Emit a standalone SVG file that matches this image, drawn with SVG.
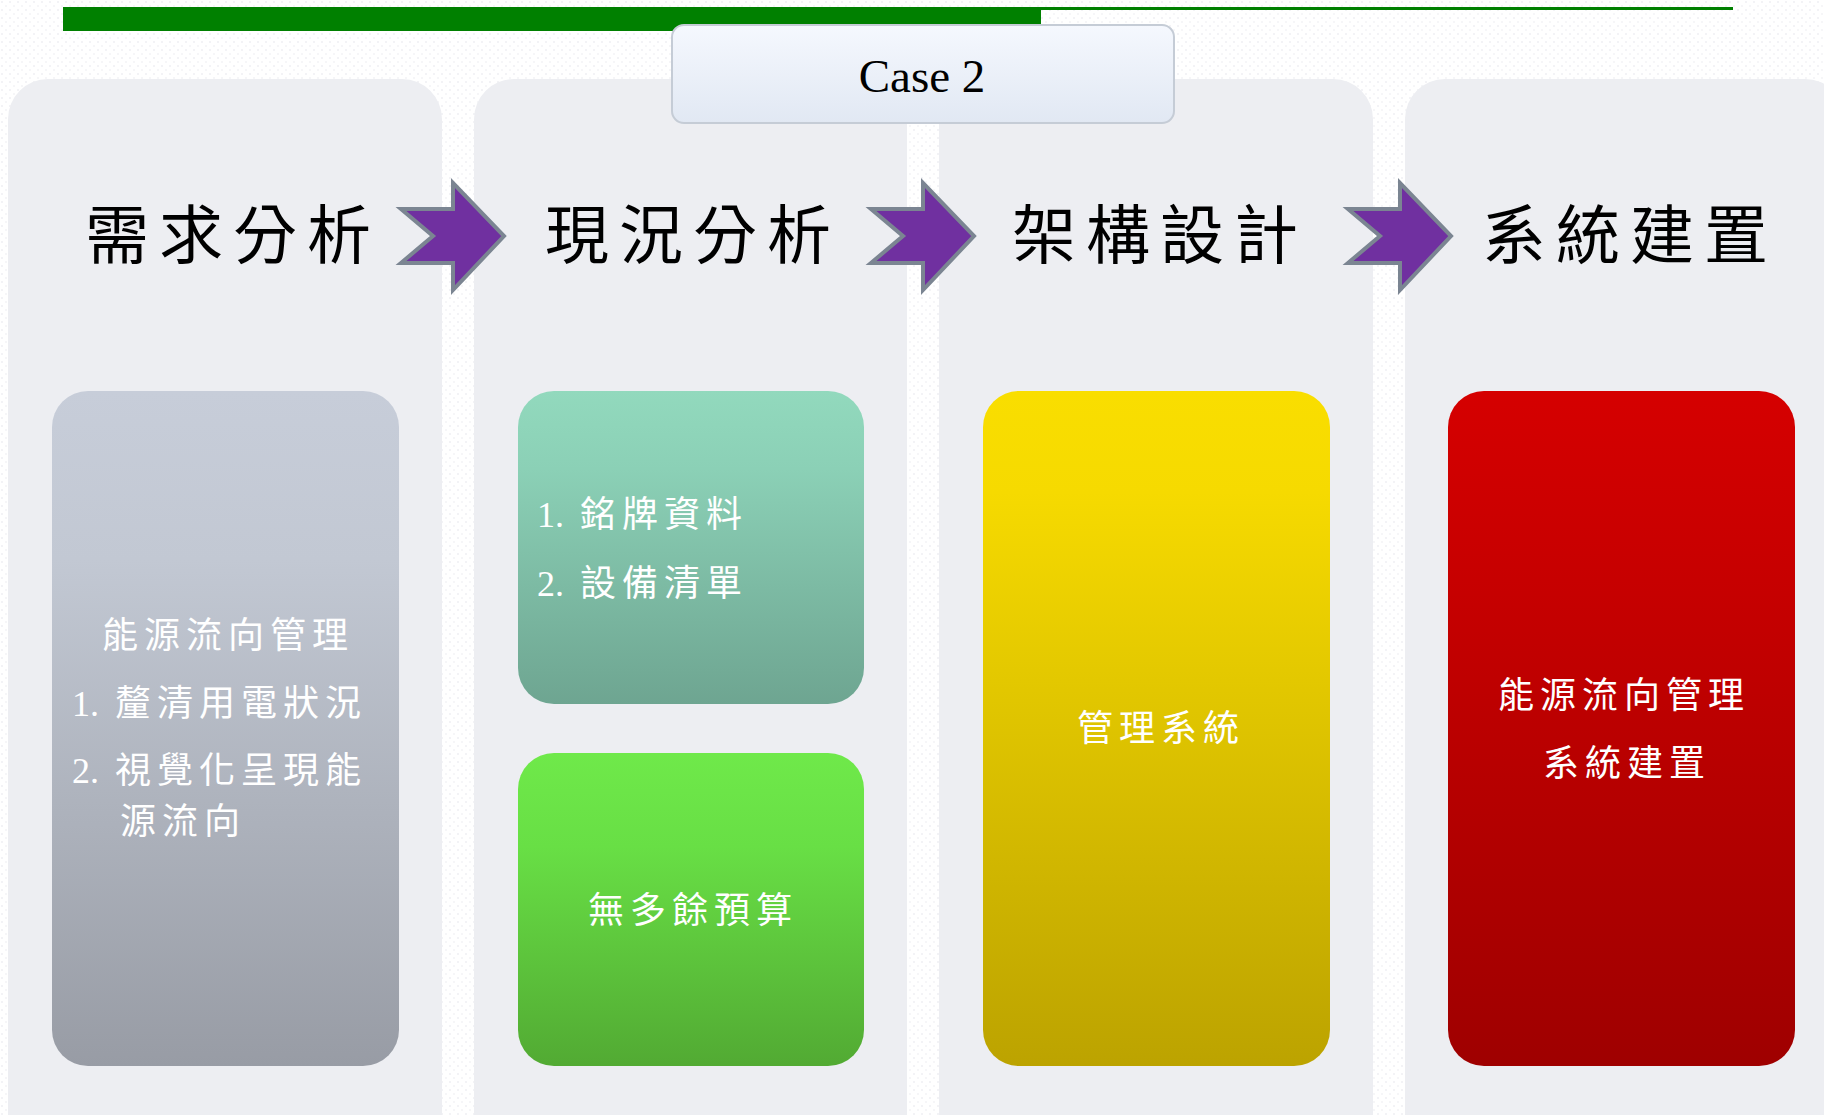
<svg xmlns="http://www.w3.org/2000/svg" width="1824" height="1115" viewBox="0 0 1824 1115">
  <defs>
    <pattern id="dots" width="8" height="8" patternUnits="userSpaceOnUse">
      <rect width="8" height="8" fill="#ffffff"/>
      <circle cx="2" cy="2" r="1" fill="#f0f0f3"/>
      <circle cx="6" cy="6" r="1" fill="#f3f3f6"/>
    </pattern>
    <linearGradient id="gCase" x1="0" y1="0" x2="0" y2="1">
      <stop offset="0" stop-color="#f5f8fe"/>
      <stop offset="1" stop-color="#e1e8f3"/>
    </linearGradient>
    <linearGradient id="gGrey" x1="0" y1="0" x2="0" y2="1">
      <stop offset="0" stop-color="#c7cdd9"/>
      <stop offset="0.25" stop-color="#c2c8d3"/>
      <stop offset="1" stop-color="#989ca5"/>
    </linearGradient>
    <linearGradient id="gTeal" x1="0" y1="0" x2="0" y2="1">
      <stop offset="0" stop-color="#92d9bd"/>
      <stop offset="0.25" stop-color="#8bd0b6"/>
      <stop offset="1" stop-color="#6ea591"/>
    </linearGradient>
    <linearGradient id="gGreen" x1="0" y1="0" x2="0" y2="1">
      <stop offset="0" stop-color="#6fe94a"/>
      <stop offset="0.3" stop-color="#68df45"/>
      <stop offset="1" stop-color="#52aa33"/>
    </linearGradient>
    <linearGradient id="gYellow" x1="0" y1="0" x2="0" y2="1">
      <stop offset="0" stop-color="#f9de00"/>
      <stop offset="0.15" stop-color="#f6da00"/>
      <stop offset="1" stop-color="#bca300"/>
    </linearGradient>
    <linearGradient id="gRed" x1="0" y1="0" x2="0" y2="1">
      <stop offset="0" stop-color="#d50000"/>
      <stop offset="0.3" stop-color="#c60000"/>
      <stop offset="1" stop-color="#9f0000"/>
    </linearGradient>
    <style>
      .col { fill: #edeef2; }
      .hdr { font-family: "Liberation Serif", "Noto Sans CJK TC", serif; font-size: 64px; letter-spacing: 10px; fill: #000000; text-anchor: middle; }
      .body { font-family: "Liberation Serif", "Noto Sans CJK TC", serif; font-size: 36px; letter-spacing: 6px; fill: #ffffff; }
      .mid { text-anchor: middle; }
      .num { letter-spacing: 0px; }
      .sp { letter-spacing: 7px; }
      .arrow { fill: #7030a0; stroke: #7b8592; stroke-width: 4; stroke-linejoin: miter; }
    </style>
  </defs>

  <rect x="0" y="0" width="1824" height="1115" fill="url(#dots)"/>

  <g id="topbar">
    <rect x="63" y="7" width="978" height="24" fill="#008000"/>
    <rect x="1041" y="7" width="692" height="3" fill="#008000"/>
  </g>

  <g id="col1">
    <rect class="col" x="8" y="79" width="434" height="1100" rx="40" ry="40"/>
    <text class="hdr" x="233" y="258">需求分析</text>
    <rect x="52" y="391" width="347" height="675" rx="36" ry="36" fill="url(#gGrey)"/>
    <text class="body mid" x="228" y="648">能源流向管理</text>
    <text class="body" x="72" y="716"><tspan class="num">1.</tspan><tspan class="sp"> </tspan>釐清用電狀況</text>
    <text class="body" x="72" y="783"><tspan class="num">2.</tspan><tspan class="sp"> </tspan>視覺化呈現能</text>
    <text class="body" x="120" y="834">源流向</text>
  </g>

  <g id="col2">
    <rect class="col" x="474" y="79" width="433" height="1100" rx="40" ry="40"/>
    <text class="hdr" x="693" y="258">現況分析</text>
    <rect x="518" y="391" width="346" height="313" rx="36" ry="36" fill="url(#gTeal)"/>
    <text class="body" x="537" y="527"><tspan class="num">1.</tspan><tspan class="sp"> </tspan>銘牌資料</text>
    <text class="body" x="537" y="596"><tspan class="num">2.</tspan><tspan class="sp"> </tspan>設備清單</text>
    <rect x="518" y="753" width="346" height="313" rx="36" ry="36" fill="url(#gGreen)"/>
    <text class="body mid" x="693" y="923">無多餘預算</text>
  </g>

  <g id="col3">
    <rect class="col" x="939" y="79" width="434" height="1100" rx="40" ry="40"/>
    <text class="hdr" x="1160" y="258">架構設計</text>
    <rect x="983" y="391" width="347" height="675" rx="36" ry="36" fill="url(#gYellow)"/>
    <text class="body mid" x="1161" y="741">管理系統</text>
  </g>

  <g id="col4">
    <rect class="col" x="1405" y="79" width="440" height="1100" rx="40" ry="40"/>
    <text class="hdr" x="1630" y="258">系統建置</text>
    <rect x="1448" y="391" width="347" height="675" rx="36" ry="36" fill="url(#gRed)"/>
    <text class="body mid" x="1624" y="708">能源流向管理</text>
    <text class="body mid" x="1627" y="776">系統建置</text>
  </g>

  <g id="case">
    <rect x="672" y="25" width="502" height="98" rx="12" ry="12" fill="url(#gCase)" stroke="#c5ccd6" stroke-width="2"/>
    <text x="922" y="92" font-family="Liberation Serif, serif" font-size="47" fill="#000000" text-anchor="middle">Case 2</text>
  </g>

  <g id="connectors">
    <path class="arrow" d="M401,209 L453,209 L453,183 L504,236 L453,290 L453,263 L401,263 L433,236 Z"/>
    <path class="arrow" d="M871,209 L923,209 L923,183 L974,236 L923,290 L923,263 L871,263 L903,236 Z"/>
    <path class="arrow" d="M1348,209 L1400,209 L1400,183 L1451,236 L1400,290 L1400,263 L1348,263 L1380,236 Z"/>
  </g>
</svg>
